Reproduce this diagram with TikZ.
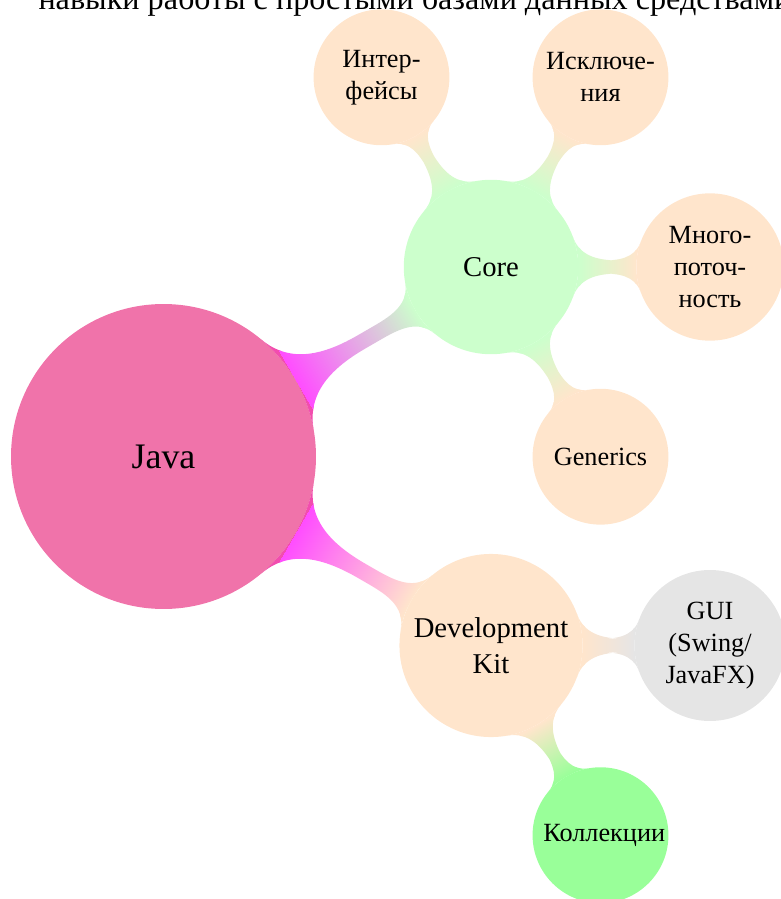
\documentclass[tikz,border=0pt]{standalone}
\usepackage{fontspec}
\setmainfont{Liberation Serif}
\usetikzlibrary{mindmap}
\definecolor{javapink}{RGB}{240,115,170}
\begin{document}
\begin{tikzpicture}[x=0.37315pt,y=-0.37315pt]
\useasboundingbox (0,0) rectangle (781,899);
\node[anchor=base west, inner sep=0pt, font=\fontsize{12pt}{14pt}\selectfont] (toptext) at (38,9.5)
  {навыки работы с простыми базами данных средствами};
\begin{scope}[mindmap,
  rootc/.style={concept, concept color=magenta!70, fill=javapink, draw=none, minimum size=113.8pt,
    text width=3cm, align=center, inner sep=1pt, font=\fontsize{13.4pt}{16pt}\selectfont, text=black},
  midc/.style={concept, draw=none, minimum size=64.9pt, text width=2.2cm, align=center, inner sep=1pt,
    font=\fontsize{10.7pt}{13.4pt}\selectfont, text=black},
  leafc/.style={concept, draw=none, minimum size=50.7pt, text width=1.5cm, align=center, inner sep=1pt,
    font=\fontsize{9.8pt}{11.9pt}\selectfont, text=black}]
\node[rootc] (java) at (163.5,456.5) {Java};
\node[midc, concept color=green!20] (core) at (491,267) {Core};
\node[midc, concept color=orange!20] (dk) at (491,645.5) {Development\\Kit};
\node[leafc, concept color=orange!20] (intf) at (381.5,77.3) {Интер-\\фейсы};
\node[leafc, concept color=orange!20] (exc) at (600.5,77.3) {Исключе-\\ния};
\node[leafc, concept color=orange!20] (thr) at (710,267) {Много-\\поточ-\\ность};
\node[leafc, concept color=orange!20] (gen) at (600.5,456.7) {Generics};
\node[leafc, concept color=gray!20] (gui) at (710,645.5) {GUI\\(Swing/\\JavaFX)};
\node[leafc, concept color=green!40] (coll) at (600.5,835.2) {Коллекции};
\path (java) to[circle connection bar switch color=from (magenta!70) to (green!20)] (core);
\path (java) to[circle connection bar switch color=from (magenta!70) to (orange!20)] (dk);
\path (core) to[circle connection bar switch color=from (green!20) to (orange!20)] (intf);
\path (core) to[circle connection bar switch color=from (green!20) to (orange!20)] (exc);
\path (core) to[circle connection bar switch color=from (green!20) to (orange!20)] (thr);
\path (core) to[circle connection bar switch color=from (green!20) to (orange!20)] (gen);
\path (dk) to[circle connection bar switch color=from (orange!20) to (gray!20)] (gui);
\path (dk) to[circle connection bar switch color=from (orange!20) to (green!40)] (coll);
\end{scope}
\end{tikzpicture}
\end{document}
